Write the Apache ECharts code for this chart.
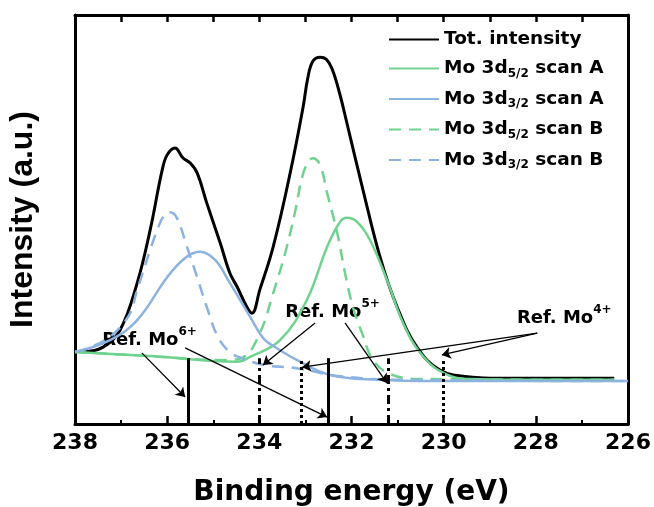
<!DOCTYPE html>
<html>
<head>
<meta charset="utf-8">
<script src="https://cdn.jsdelivr.net/npm/echarts@6/dist/echarts.min.js"></script>
<style>html,body{margin:0;padding:0;background:#fff}#main{width:654px;height:507px}</style>
</head>
<body>
<div id="main"></div>
<script>
// binding energy (eV) and intensity (a.u., 0-100 scale)
var totX = [237.83, 237.39, 237.02, 236.65, 236.37, 236.11, 236.00, 235.83, 235.66, 235.50, 235.35, 235.14, 234.85, 234.64, 234.48, 234.27, 234.16, 233.99, 233.70, 233.33, 233.05, 232.95, 232.84, 232.68, 232.55, 232.42, 232.25, 232.10, 231.75, 231.38, 231.01, 230.58, 230.08, 229.43, 228.78, 227.91, 226.30];
var totY = [17.6, 18.8, 23.0, 34.5, 47.4, 62.0, 65.8, 67.5, 65.1, 63.8, 61.4, 54.0, 44.3, 36.9, 33.5, 28.6, 27.1, 32.8, 43.3, 61.4, 77.5, 84.5, 88.7, 89.7, 89.2, 86.8, 80.5, 73.6, 57.2, 40.8, 28.6, 18.8, 13.2, 11.5, 11.2, 11.2, 11.2];

var g52aX = [238.0, 236.37, 234.48, 234.20, 233.55, 232.97, 232.53, 232.25, 232.10, 231.88, 231.60, 231.23, 230.88, 230.51, 230.01, 229.43, 228.34, 226.30];
var g52aY = [17.6, 16.6, 15.2, 16.4, 20.5, 30.3, 43.3, 49.4, 50.4, 49.4, 45.0, 35.2, 24.7, 17.4, 12.5, 11.0, 10.8, 10.8];

var b32aX = [238.0, 237.24, 236.65, 236.00, 235.61, 235.29, 234.96, 234.64, 234.20, 233.92, 233.77, 233.18, 232.47, 231.38, 230.30, 226.0];
var b32aY = [17.6, 20.5, 25.4, 35.9, 40.6, 42.1, 40.1, 34.5, 26.2, 21.0, 19.6, 15.6, 12.0, 10.8, 10.5, 10.5];

var g52bX = [238.0, 236.37, 234.74, 234.35, 233.99, 233.70, 233.44, 233.23, 233.07, 232.94, 232.84, 232.68, 232.53, 232.31, 232.14, 231.97, 231.77, 231.53, 231.16, 230.51, 226.30];
var g52bY = [17.6, 16.6, 15.6, 16.3, 22.2, 32.0, 41.8, 51.6, 60.4, 64.1, 65.0, 63.3, 56.5, 46.7, 36.9, 28.6, 22.2, 15.6, 12.2, 11.0, 10.8];

var b32bX = [238.0, 237.35, 236.85, 236.65, 236.37, 236.20, 236.05, 235.94, 235.79, 235.57, 235.35, 235.14, 234.90, 234.64, 234.38, 233.88, 233.23, 232.25, 230.95, 226.0];
var b32bY = [17.6, 20.5, 26.2, 32.8, 42.5, 47.9, 51.3, 51.8, 50.4, 43.3, 35.9, 28.6, 21.3, 17.6, 16.1, 14.4, 13.7, 11.7, 10.8, 10.5];

// reference energies: Mo6+ solid, Mo5+ dash-dot, Mo4+ dotted
var refX = [235.55, 234.0, 233.1, 232.5, 231.2, 230.0];
var refKind = ['solid', 'dashdot', 'dotted', 'solid', 'dashdot', 'dotted'];
var refTop = 16.1;

// annotation labels [x, y, charge] and arrows [x0, y0, x1, y1]
var labelPts = [[237.41, 20.5, '6+'], [233.44, 27.4, '5+'], [228.41, 25.9, '4+']];
var arrows = [
  [236.55, 17.4, 235.61, 6.6],
  [235.61, 18.6, 232.53, 1.7],
  [232.79, 24.7, 233.92, 14.4],
  [232.14, 24.7, 231.23, 10.0],
  [227.97, 22.2, 230.04, 16.9],
  [227.97, 22.2, 233.07, 13.9]
];

var xTicks = [238, 236, 234, 232, 230, 228, 226];

var names = ['Tot. intensity', 'Mo 3d5/2 scan A', 'Mo 3d3/2 scan A', 'Mo 3d5/2 scan B', 'Mo 3d3/2 scan B'];

var GREEN = '#6fd38f', BLUE = '#8cb2e0';
var dashStyles = { solid: 'solid', dashdot: [9, 4, 3, 4], dotted: [3, 3] };

function zip(xs, ys) {
  return xs.map(function (x, i) { return [x, ys[i]]; });
}

function curve(name, xs, ys, color, width, type) {
  return {
    name: name, type: 'line', data: zip(xs, ys),
    smooth: 0.4, symbol: 'none', xAxisIndex: 0, yAxisIndex: 0,
    lineStyle: { color: color, width: width, type: type },
    itemStyle: { color: color }
  };
}

var markData = refX.map(function (x, i) {
  return [
    { coord: [x, 0], lineStyle: { color: '#000', width: 3, type: dashStyles[refKind[i]] }, symbol: 'none' },
    { coord: [x, refTop], symbol: 'none' }
  ];
}).concat(arrows.map(function (a) {
  return [
    { coord: [a[0], a[1]], lineStyle: { color: '#000', width: 1.3, type: 'solid' } },
    { coord: [a[2], a[3]] }
  ];
}));

var myChart = echarts.init(document.getElementById('main'));

var option = {
  animation: false,
  backgroundColor: '#fff',
  grid: { left: 75, right: 26, top: 15, bottom: 83, outerBoundsMode: 'none', containLabel: false },
  legend: {
    data: names,
    orient: 'vertical',
    left: 383,
    top: 25,
    itemWidth: 50,
    itemHeight: 14,
    itemGap: 10,
    itemStyle: { opacity: 0 },
    formatter: function (n) {
      var m = n.match(/^Mo 3d(\d\/2)(.*)$/);
      if (!m) return '{b|' + n + '}';
      return '{b|Mo 3d}{s|' + m[1] + '}{b|' + m[2] + '}';
    },
    textStyle: {
      rich: {
        b: { fontFamily: 'DejaVu Sans', fontWeight: 'bold', fontSize: 18.5, color: '#000', lineHeight: 22 },
        s: { fontFamily: 'DejaVu Sans', fontWeight: 'bold', fontSize: 12, color: '#000', lineHeight: 10, verticalAlign: 'bottom' }
      }
    }
  },
  xAxis: [{
    type: 'value', min: 226, max: 238, interval: 2, inverse: true,
    name: 'Binding energy (eV)', nameLocation: 'middle', nameGap: 55, nameMoveOverlap: false,
    nameTextStyle: { fontFamily: 'DejaVu Sans', fontWeight: 'bold', fontSize: 28, color: '#000' },
    axisLine: { onZero: false, lineStyle: { color: '#000', width: 3 } },
    axisTick: { inside: true, length: 8, lineStyle: { color: '#000', width: 2.5 } },
    minorTick: { show: true, splitNumber: 2, length: 4, lineStyle: { color: '#000', width: 2 } },
    splitLine: { show: false },
    axisLabel: {
      margin: 8, color: '#000', fontFamily: 'DejaVu Sans', fontWeight: 'bold', fontSize: 22,
      formatter: function (v) { return xTicks.indexOf(v) >= 0 ? String(v) : ''; }
    }
  }, {
    type: 'value', position: 'top', min: 226, max: 238, interval: 1, inverse: true,
    axisLine: { onZero: false, lineStyle: { color: '#000', width: 3 } },
    axisTick: { inside: true, length: 7, lineStyle: { color: '#000', width: 2.5 } },
    axisLabel: { show: false },
    splitLine: { show: false }
  }],
  yAxis: [{
    type: 'value', min: 0, max: 100,
    name: 'Intensity (a.u.)', nameLocation: 'middle', nameGap: 36, nameRotate: 90,
    nameTextStyle: { fontFamily: 'Liberation Sans', fontWeight: 'bold', fontSize: 32, color: '#000' },
    axisLine: { show: true, onZero: false, lineStyle: { color: '#000', width: 3 } },
    axisTick: { show: false },
    axisLabel: { show: false },
    splitLine: { show: false }
  }, {
    type: 'value', min: 0, max: 100, position: 'right',
    axisLine: { show: true, onZero: false, lineStyle: { color: '#000', width: 3 } },
    axisTick: { show: false },
    axisLabel: { show: false },
    splitLine: { show: false }
  }],
  series: [
    curve(names[0], totX, totY, '#000', 3, 'solid'),
    curve(names[1], g52aX, g52aY, GREEN, 2.5, 'solid'),
    curve(names[2], b32aX, b32aY, BLUE, 2.5, 'solid'),
    curve(names[3], g52bX, g52bY, GREEN, 2.5, [12, 8]),
    curve(names[4], b32bX, b32bY, BLUE, 2.5, [12, 8]),
    {
      name: 'refs', type: 'scatter', silent: true,
      symbolSize: 0,
      itemStyle: { opacity: 1 },
      data: labelPts.map(function (p) { return { value: [p[0], p[1]], charge: p[2] }; }),
      label: {
        show: true, position: 'right', distance: 0, color: '#000', opacity: 1,
        formatter: function (p) { return '{m|Ref. Mo}{s|' + p.data.charge + '}'; },
        rich: {
          m: { fontFamily: 'DejaVu Sans', fontWeight: 'bold', fontSize: 18, color: '#000', lineHeight: 28 },
          s: { fontFamily: 'DejaVu Sans', fontWeight: 'bold', fontSize: 12, color: '#000', lineHeight: 8, verticalAlign: 'top' }
        }
      },
      markLine: {
        silent: true,
        symbol: ['none', 'arrow'],
        symbolSize: 9,
        label: { show: false },
        emphasis: { disabled: true },
        data: markData
      }
    }
  ]
};

myChart.setOption(option);
</script>
</body>
</html>
